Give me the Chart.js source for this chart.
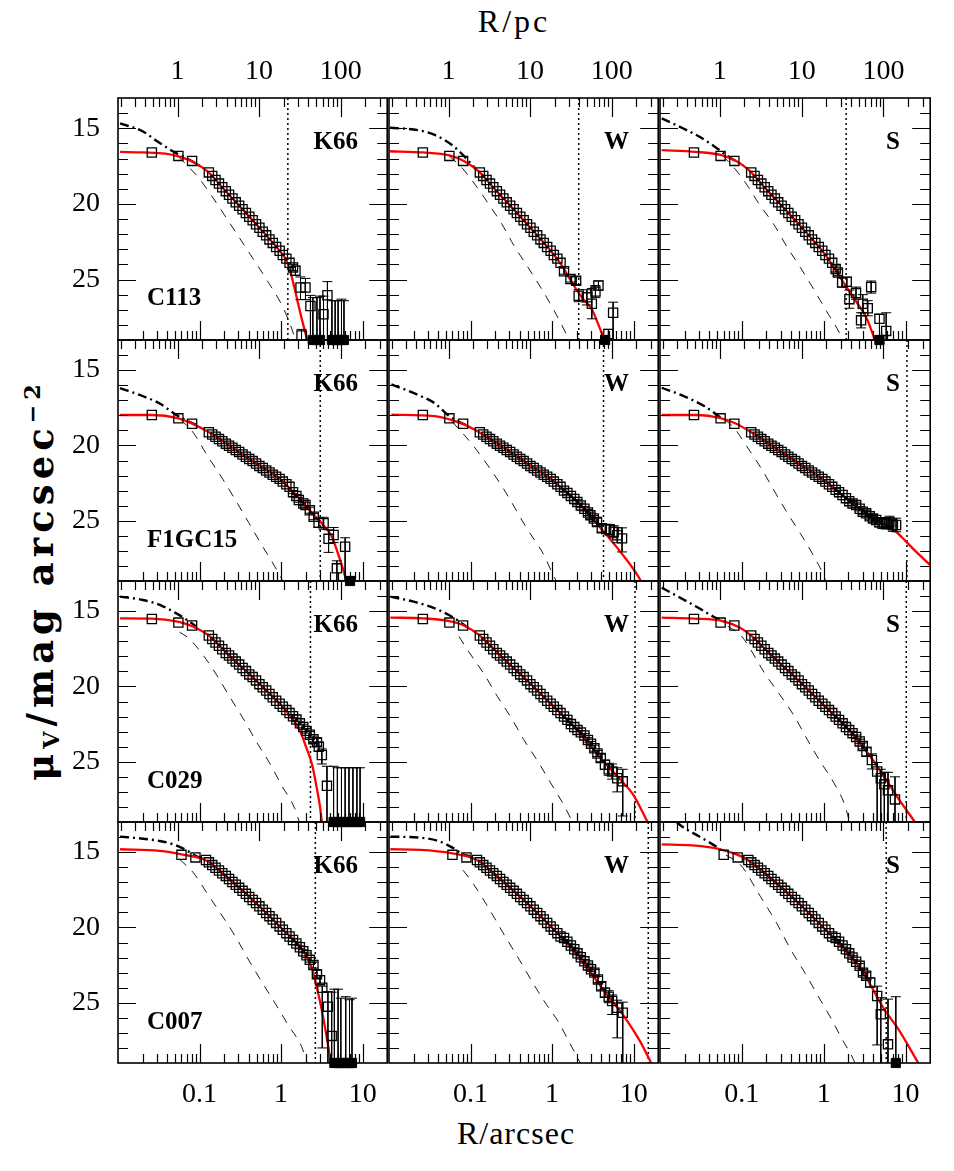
<!DOCTYPE html>
<html>
<head>
<meta charset="utf-8">
<script src="https://cdn.jsdelivr.net/npm/chart.js@4.4.1/dist/chart.umd.min.js"></script>
<style>
  body { margin: 0; background: #fff; }
  #fig { position: relative; width: 954px; height: 1171px; background: #fff; overflow: hidden; }
  #fig canvas { position: absolute; }
  .axt { position: absolute; width: 200px; font-family: "Liberation Serif", serif; font-size: 32px; line-height: 32px; text-align: center; white-space: nowrap; color: #000; }
  #ylab { position: absolute; left: -218px; top: 555px; width: 500px; height: 50px; line-height: 50px; text-align: center; white-space: nowrap;
          transform: rotate(-90deg); font-family: "DejaVu Serif", serif; font-weight: bold; font-size: 37px; letter-spacing: 5px; color: #000; }
  #ylab sub { font-size: 0.6em; vertical-align: -0.25em; }
  #ylab sup { font-size: 0.6em; vertical-align: 0.6em; }
</style>
</head>
<body>
<div id="fig">
  <div class="axt" style="left:414px;top:5px;letter-spacing:3px">R/pc</div>
  <div class="axt" style="left:416px;top:1117px;letter-spacing:1px">R/arcsec</div>
  <div id="ylab">μ<sub>V</sub>/mag arcsec<sup>−2</sup></div>
</div>
<script>
// ---- data (radius in arcsec, surface brightness in mag/arcsec^2) ----
var clusters = ['C113', 'F1GC15', 'C029', 'C007'];
var models = ['K66', 'W', 'S'];
var rTicks = [0.1, 1, 10];
var pcTicks = [1, 10, 100];
var muTicks = [15, 20, 25];

var rInner = [0.026, 0.055, 0.081];
var rInnerC007 = [0.06, 0.089, 0.12];
var rGrid = [0.13, 0.143, 0.157, 0.173, 0.19, 0.21, 0.23, 0.253, 0.278, 0.306, 0.337, 0.37, 0.407,
             0.448, 0.493, 0.542, 0.596, 0.656, 0.72, 0.79, 0.87, 0.96, 1.05, 1.16, 1.27];

var muC113 = [16.6, 16.83, 17.16, 17.92, 18.15, 18.42, 18.66, 18.9, 19.16, 19.4, 19.64, 19.9, 20.12, 20.36,
              20.6, 20.85, 21.08, 21.35, 21.58, 21.84, 22.08, 22.35, 22.58, 22.85, 23.1, 23.38, 23.62, 23.9];
var muF1GC15 = [17.98, 18.2, 18.56, 19.12, 19.27, 19.42, 19.58, 19.72, 19.88, 20.02, 20.15, 20.3, 20.43, 20.6,
                20.75, 20.9, 21.04, 21.2, 21.36, 21.5, 21.66, 21.8, 21.95, 22.08, 22.22, 22.4, 22.58, 22.75];
var muC029 = [15.52, 15.76, 15.95, 16.62, 16.85, 17.08, 17.3, 17.53, 17.78, 17.95, 18.15, 18.35, 18.55, 18.78,
              18.98, 19.2, 19.38, 19.6, 19.85, 20.05, 20.27, 20.5, 20.72, 20.95, 21.15, 21.35, 21.57, 21.77];
var muC007 = [15.18, 15.35, 15.52, 15.68, 15.86, 16.04, 16.22, 16.4, 16.58, 16.78, 16.98, 17.17, 17.37, 17.57,
              17.77, 17.98, 18.18, 18.38, 18.6, 18.82, 19.04, 19.25, 19.47, 19.7, 19.93, 20.15, 20.38, 20.6];

// outer points per fit: [r, mu, err bright, err faint]
var tailC113K = [[1.4, 24.2, 0.2, 0.2], [1.5, 24.42, 0.3, 0.3], [1.73, 25.53, 0.7, 0.8], [1.78, 28.7, 0.4, 0.4],
                 [1.99, 25.53, 0.6, 0.8], [2.29, 26.75, 0.7, 4], [3.31, 27.3, 1.2, 4], [3.7, 26.04, 0.9, 4]];
var tailC113W = [[1.4, 24.45, 0.2, 0.2], [1.68, 24.97, 0.2, 0.2], [1.97, 25.08, 0.25, 0.25], [2.12, 26.07, 0.4, 0.4],
                 [2.67, 26.18, 0.5, 0.5], [3.07, 26.6, 1.0, 1.0], [3.4, 25.8, 0.4, 0.4], [3.7, 25.4, 0.3, 0.3],
                 [4.9, 28.6, 0.3, 3], [5.6, 27.2, 0.7, 3]];
var tailC113S = [[1.4, 24.3, 0.2, 0.2], [1.49, 24.53, 0.2, 0.2], [1.68, 25.2, 0.3, 0.3], [1.91, 25.15, 0.3, 0.3],
                 [2.06, 26.3, 0.6, 0.6], [2.48, 25.9, 0.4, 0.4], [2.86, 27.7, 0.5, 0.5], [3.0, 26.6, 0.6, 0.6],
                 [3.45, 26.9, 0.5, 0.5], [3.8, 25.5, 0.4, 0.4], [4.8, 27.6, 0.3, 3], [5.8, 28.4, 1.2, 3]];
var tailF1GC15K = [[1.4, 23.1, 0.1, 0.1], [1.54, 23.35, 0.1, 0.1], [1.65, 23.62, 0.15, 0.15], [1.87, 23.85, 0.15, 0.15],
                   [1.99, 23.95, 0.15, 0.15], [2.25, 24.3, 0.2, 0.2], [2.51, 24.73, 0.2, 0.2], [2.88, 25.13, 0.3, 0.3],
                   [3.32, 25.17, 0.4, 0.4], [3.82, 26.2, 0.6, 0.9], [4.4, 25.95, 0.5, 0.5], [4.83, 28.16, 0.5, 0.8],
                   [6.1, 26.73, 0.6, 3]];
var tailF1GC15W = [[1.4, 23.0, 0.1, 0.1], [1.54, 23.15, 0.1, 0.1], [1.7, 23.35, 0.1, 0.1], [1.87, 23.55, 0.1, 0.1],
                   [2.04, 23.75, 0.15, 0.15], [2.25, 23.98, 0.15, 0.15], [2.49, 24.2, 0.15, 0.15], [2.75, 24.45, 0.2, 0.2],
                   [2.95, 24.63, 0.2, 0.2], [3.25, 24.85, 0.2, 0.2], [3.55, 25.08, 0.25, 0.25], [4.07, 25.5, 0.25, 0.25],
                   [4.6, 25.55, 0.3, 0.3], [5.1, 25.6, 0.35, 0.35], [5.69, 25.73, 0.4, 0.4], [6.3, 25.96, 0.5, 0.5],
                   [7.2, 26.17, 0.7, 0.9]];
var tailF1GC15S = [[1.4, 22.95, 0.1, 0.1], [1.54, 23.1, 0.1, 0.1], [1.7, 23.29, 0.1, 0.1], [1.87, 23.5, 0.1, 0.1],
                   [2.05, 23.7, 0.12, 0.12], [2.25, 23.85, 0.12, 0.12], [2.49, 23.96, 0.15, 0.15], [2.75, 24.2, 0.15, 0.15],
                   [3.0, 24.4, 0.2, 0.2], [3.3, 24.51, 0.2, 0.2], [3.65, 24.7, 0.2, 0.2], [4.0, 24.85, 0.25, 0.25],
                   [4.37, 24.95, 0.3, 0.3], [4.8, 25.1, 0.3, 0.3], [5.25, 25.17, 0.35, 0.35], [5.8, 25.2, 0.35, 0.35],
                   [6.35, 25.1, 0.4, 0.4], [7.0, 25.3, 0.4, 0.4], [7.66, 25.28, 0.45, 0.45]];
var tailC029K = [[1.4, 21.98, 0.1, 0.1], [1.54, 22.2, 0.1, 0.1], [1.7, 22.45, 0.1, 0.1], [1.87, 22.7, 0.15, 0.15],
                 [2.05, 22.95, 0.15, 0.15], [2.25, 23.2, 0.2, 0.2], [2.49, 23.5, 0.2, 0.2], [2.75, 23.7, 0.25, 0.25],
                 [2.9, 24.0, 0.3, 0.3], [3.16, 24.55, 0.4, 0.6], [3.65, 26.6, 1.3, 4]];
var tailC029W = [[1.4, 22.0, 0.1, 0.1], [1.54, 22.22, 0.1, 0.1], [1.7, 22.5, 0.1, 0.1], [1.87, 22.7, 0.1, 0.1],
                 [2.05, 22.9, 0.1, 0.1], [2.25, 23.05, 0.12, 0.12], [2.49, 23.25, 0.12, 0.12], [2.75, 23.55, 0.15, 0.15],
                 [3.0, 23.8, 0.15, 0.15], [3.3, 24.1, 0.2, 0.2], [3.6, 24.45, 0.2, 0.2], [3.95, 24.75, 0.25, 0.25],
                 [4.45, 25.2, 0.3, 0.3], [4.95, 25.5, 0.4, 0.4], [5.45, 25.65, 0.5, 0.5], [6.3, 26.1, 0.7, 0.9],
                 [7.35, 26.3, 0.8, 2.3]];
var tailC029S = [[1.4, 22.0, 0.1, 0.1], [1.54, 22.22, 0.1, 0.1], [1.7, 22.45, 0.1, 0.1], [1.87, 22.7, 0.1, 0.1],
                 [2.05, 22.9, 0.1, 0.1], [2.25, 23.1, 0.12, 0.12], [2.49, 23.35, 0.12, 0.12], [2.75, 23.65, 0.15, 0.15],
                 [3.0, 23.95, 0.2, 0.2], [3.33, 24.33, 0.25, 0.3], [3.88, 24.88, 0.4, 0.6], [4.5, 25.65, 0.6, 4],
                 [4.98, 26.1, 0.6, 4], [5.5, 26.5, 0.8, 4], [6.1, 26.9, 1.2, 4], [7.43, 27.5, 1.5, 4]];
var tailC007K = [[1.4, 20.83, 0.1, 0.1], [1.54, 21.07, 0.1, 0.1], [1.7, 21.32, 0.1, 0.1], [1.87, 21.58, 0.1, 0.1],
                 [2.05, 21.85, 0.15, 0.15], [2.25, 22.15, 0.15, 0.15], [2.49, 22.5, 0.2, 0.2], [2.75, 23.1, 0.25, 0.25],
                 [3.0, 23.5, 0.3, 0.3], [3.2, 24.0, 0.1, 4], [3.75, 25.26, 1.0, 4], [4.17, 27.2, 2.9, 4]];
var tailC007W = [[1.4, 20.7, 0.1, 0.1], [1.54, 20.95, 0.1, 0.1], [1.7, 21.2, 0.1, 0.1], [1.87, 21.45, 0.1, 0.1],
                 [2.05, 21.72, 0.1, 0.1], [2.25, 21.98, 0.12, 0.12], [2.49, 22.25, 0.12, 0.12], [2.75, 22.52, 0.15, 0.15],
                 [3.0, 22.78, 0.15, 0.15], [3.3, 23.0, 0.2, 0.2], [3.65, 23.45, 0.2, 0.2], [4.0, 23.9, 0.25, 0.25],
                 [4.45, 24.33, 0.3, 0.3], [4.95, 24.6, 0.4, 0.4], [5.45, 24.88, 0.4, 0.9], [6.3, 25.33, 0.5, 2.0],
                 [7.35, 25.66, 0.7, 4]];
var tailC007S = [[1.4, 20.7, 0.1, 0.1], [1.54, 20.95, 0.1, 0.1], [1.7, 21.2, 0.1, 0.1], [1.87, 21.45, 0.1, 0.1],
                 [2.05, 21.72, 0.1, 0.1], [2.25, 22.0, 0.12, 0.12], [2.49, 22.28, 0.12, 0.12], [2.75, 22.55, 0.15, 0.15],
                 [3.02, 23.0, 0.2, 0.2], [3.3, 23.2, 0.2, 0.2], [3.7, 23.66, 0.3, 0.3], [4.5, 24.55, 0.65, 3.25],
                 [4.98, 25.77, 1.1, 4], [6.1, 27.76, 3.0, 3]];

// points fainter than the plot floor: [r, error towards bright]
var limC113K = [[2.45, 2.8], [2.75, 2.8], [3.0, 2.9], [4.2, 2.6], [4.6, 2.6], [5.0, 2.6], [5.5, 2.7], [5.9, 2.6]];
var limC113W = [[4.47, 0.3]];
var limC113S = [[4.8, 0.3]];
var limF1GC15K = [[7.0, 0.3]];
var limC029K = [[4.4, 3.7], [4.9, 3.6], [5.5, 3.6], [6.1, 3.6], [6.8, 3.6], [7.6, 3.6], [8.5, 3.6], [9.3, 3.6]];
var limC007K = [[4.5, 4.9], [5.0, 4.9], [5.4, 4.3], [6.2, 4.4], [6.9, 4.2], [7.4, 4.3]];
var limC007S = [[7.6, 4.4]];

// fitted model (red), intrinsic model (dash-dot), PSF (dashed): [r, mu]
var fitC113K = [[0.0106, 16.56], [0.02, 16.6], [0.038, 16.68], [0.055, 16.86], [0.081, 17.2], [0.13, 17.93], [0.2, 19.05],
                [0.34, 20.38], [0.6, 21.85], [1.0, 23.22], [1.16, 23.75], [1.3, 24.5], [1.45, 25.5], [1.65, 26.8],
                [1.85, 27.9], [2.05, 28.8], [2.2, 29.4]];
var fitC113W = [[0.0103, 16.52], [0.026, 16.6], [0.055, 16.79], [0.084, 17.18], [0.128, 17.89], [0.2, 19.05], [0.34, 20.38],
                [0.6, 21.85], [1.0, 23.22], [1.38, 24.25], [1.66, 25.0], [2.33, 26.2], [3.09, 27.0], [3.9, 28.3], [4.7, 29.4]];
var fitC113S = [[0.0105, 16.45], [0.027, 16.56], [0.056, 16.78], [0.085, 17.16], [0.123, 17.78], [0.2, 19.05], [0.34, 20.38],
                [0.6, 21.85], [1.0, 23.22], [1.7, 25.1], [2.45, 26.4], [3.3, 27.5], [4.37, 29.2]];
var fitF1GC15K = [[0.0106, 17.98], [0.026, 17.98], [0.055, 18.2], [0.081, 18.55], [0.13, 19.12], [0.25, 20.13], [0.5, 21.22],
                  [1.0, 22.3], [1.6, 23.4], [2.51, 24.6], [3.3, 25.3], [4.19, 26.06], [5.0, 27.2], [6.1, 28.7], [6.5, 29.3]];
var fitF1GC15W = [[0.0107, 17.95], [0.036, 18.05], [0.058, 18.3], [0.091, 18.7], [0.135, 19.2], [0.25, 20.13], [0.5, 21.22],
                  [1.0, 22.3], [2.0, 23.7], [3.55, 25.2], [6.3, 26.8], [12.0, 28.9], [13.0, 29.3]];
var fitF1GC15S = [[0.0105, 17.98], [0.027, 17.98], [0.056, 18.2], [0.084, 18.54], [0.13, 19.12], [0.25, 20.13], [0.5, 21.22],
                  [1.0, 22.3], [2.0, 23.6], [4.37, 24.95], [5.8, 25.3], [7.66, 25.73], [10.0, 26.35], [14.0, 27.15], [20.0, 27.94]];
var fitC029K = [[0.0106, 15.48], [0.026, 15.5], [0.054, 15.7], [0.081, 16.0], [0.13, 16.62], [0.25, 18.13], [0.5, 19.63],
                [1.0, 21.25], [1.4, 22.2], [1.75, 23.1], [2.05, 24.1], [2.4, 25.2], [2.75, 26.8], [3.0, 28.0], [3.2, 29.2]];
var fitC029W = [[0.0104, 15.43], [0.026, 15.48], [0.057, 15.68], [0.083, 15.95], [0.13, 16.62], [0.25, 18.13], [0.5, 19.63],
                [1.0, 21.24], [2.0, 22.85], [4.0, 24.8], [6.64, 26.1], [9.9, 27.2], [14.8, 29.0]];
var fitC029S = [[0.0105, 15.43], [0.026, 15.5], [0.058, 15.66], [0.095, 16.1], [0.13, 16.62], [0.25, 18.13], [0.5, 19.63],
                [1.0, 21.24], [2.0, 22.85], [4.0, 24.9], [8.3, 27.5], [13.0, 29.0]];
var fitC007K = [[0.0106, 14.81], [0.0325, 14.92], [0.06, 15.15], [0.12, 15.55], [0.25, 16.95], [0.5, 18.41], [1.0, 20.02],
                [2.0, 21.8], [2.4, 22.75], [2.75, 24.0], [3.16, 25.5], [3.55, 27.0], [3.98, 28.6], [4.17, 29.2]];
var fitC007W = [[0.0104, 14.81], [0.0243, 14.85], [0.06, 15.08], [0.109, 15.42], [0.13, 15.65], [0.25, 16.95], [0.5, 18.41],
                [1.0, 20.02], [2.0, 21.75], [4.0, 23.95], [8.1, 26.1], [12.1, 27.6], [16.4, 29.0]];
var fitC007S = [[0.0105, 14.48], [0.0246, 14.55], [0.0548, 14.81], [0.1, 15.3], [0.13, 15.68], [0.25, 16.95], [0.5, 18.41],
                [1.0, 20.02], [2.0, 21.75], [3.0, 22.95], [5.5, 25.44], [8.2, 26.77], [14.3, 29.0]];

var intrC113K = [[0.0106, 14.68], [0.02, 15.2], [0.031, 15.9], [0.05, 16.6], [0.076, 17.1], [0.11, 17.62]];
var intrC113W = [[0.0103, 14.97], [0.023, 15.13], [0.037, 15.46], [0.06, 16.13], [0.087, 16.95], [0.112, 17.6]];
var intrC113S = [[0.0105, 14.35], [0.019, 15.0], [0.03, 15.55], [0.049, 16.3], [0.068, 16.87], [0.093, 17.3]];
var intrF1GC15K = [[0.0106, 16.2], [0.0185, 16.65], [0.0325, 17.22], [0.0519, 17.98], [0.069, 18.35], [0.09, 18.62]];
var intrF1GC15W = [[0.0107, 15.94], [0.0228, 16.65], [0.0363, 17.2], [0.0528, 17.98], [0.07, 18.4], [0.09, 18.68]];
var intrF1GC15S = [[0.0105, 16.17], [0.02, 16.75], [0.035, 17.4], [0.056, 18.18]];
var intrC029K = [[0.0106, 14.04], [0.0203, 14.26], [0.0325, 14.59], [0.0519, 15.15], [0.0753, 15.7], [0.0903, 16.0]];
var intrC029W = [[0.0104, 14.04], [0.02, 14.37], [0.0363, 14.81], [0.0542, 15.26], [0.0733, 15.7], [0.0893, 16.03]];
var intrC029S = [[0.0105, 13.45], [0.0182, 14.15], [0.0301, 14.81], [0.045, 15.37], [0.0607, 15.7]];
var intrC007K = [[0.0106, 13.97], [0.0203, 14.11], [0.0325, 14.26], [0.0472, 14.48], [0.0655, 14.81], [0.0908, 15.26], [0.11, 15.45]];
var intrC007W = [[0.0104, 13.97], [0.0243, 14.04], [0.0402, 14.26], [0.06, 14.7], [0.081, 15.15], [0.099, 15.28]];
var intrC007S = [[0.016, 13.0], [0.0182, 13.27], [0.0272, 13.82], [0.0406, 14.37], [0.0548, 14.81]];

var psfC113K = [[0.055, 16.88], [0.075, 17.6], [0.1, 18.35], [0.14, 19.45], [0.2, 20.7], [0.3, 22.15], [0.45, 23.6],
                [0.7, 25.2], [1.0, 26.6], [1.3, 28.0], [1.5, 29.0]];
var psfC113W = [[0.055, 16.85], [0.077, 17.56], [0.12, 18.9], [0.17, 20.08], [0.24, 21.3], [0.34, 22.75], [0.5, 24.15],
                [0.72, 25.5], [1.02, 26.9], [1.49, 28.6], [1.68, 29.2]];
var psfC113S = [[0.058, 16.8], [0.084, 17.74], [0.117, 18.79], [0.162, 20.0], [0.245, 21.35], [0.356, 22.85], [0.518, 24.2],
                [0.74, 25.57], [1.07, 27.05], [1.56, 28.55], [1.75, 29.2]];
var psfF1GC15K = [[0.058, 18.25], [0.085, 19.2], [0.122, 20.6], [0.188, 22.15], [0.274, 23.6], [0.398, 25.1], [0.578, 26.6],
                  [0.839, 28.05], [1.05, 29.0]];
var psfF1GC15W = [[0.059, 18.4], [0.108, 20.02], [0.247, 22.78], [0.498, 25.57], [0.78, 27.2], [1.05, 28.7], [1.14, 29.05]];
var psfF1GC15S = [[0.062, 18.3], [0.08, 18.82], [0.114, 20.04], [0.173, 21.53], [0.252, 23.07], [0.356, 24.45], [0.518, 25.84],
                  [0.752, 27.32], [1.02, 28.76], [1.07, 29.1]];
var psfC029K = [[0.057, 16.4], [0.074, 16.81], [0.112, 17.96], [0.162, 19.24], [0.227, 20.57], [0.342, 22.12], [0.497, 23.67],
                [0.723, 25.09], [1.01, 26.55], [1.47, 28.1], [1.73, 29.25]];
var psfC029W = [[0.072, 16.68], [0.096, 17.73], [0.149, 19.24], [0.213, 20.66], [0.318, 22.12], [0.449, 23.53], [0.67, 24.99],
                [0.96, 26.4], [1.39, 27.87], [1.79, 29.02]];
var psfC029S = [[0.067, 16.0], [0.098, 16.63], [0.186, 19.04], [0.44, 22.0], [0.638, 23.58], [0.889, 24.9], [1.33, 26.4],
                [1.79, 27.8], [2.02, 28.8], [2.1, 29.2]];
var psfC007K = [[0.057, 15.48], [0.084, 16.37], [0.126, 17.8], [0.188, 19.2], [0.275, 20.6], [0.4, 22.16], [0.581, 23.62],
                [0.845, 25.04], [1.23, 26.5], [1.78, 27.9], [2.09, 29.0]];
var psfC007W = [[0.081, 16.2], [0.109, 17.13], [0.172, 18.84], [0.264, 20.57], [0.394, 22.12], [0.553, 23.49], [0.794, 24.87],
                [1.19, 26.26], [1.67, 27.74], [2.21, 28.98]];
var psfC007S = [[0.064, 15.2], [0.0953, 15.81], [0.169, 17.96], [0.267, 19.73], [0.398, 21.5], [0.596, 23.06], [0.838, 24.48],
                [1.2, 25.94], [1.62, 27.27], [2.28, 28.71], [2.45, 29.1]];

// dotted radius marker per fit (arcsec), order K66, W, S
var rtC113 = [1.21, 2.12, 1.88];
var rtF1GC15 = [3.02, 4.27, 10.4];
var rtC029 = [2.29, 10.4, 10.2];
var rtC007 = [2.63, 15.1, 5.8];

// ---- layout ----
var COL_X = [118, 389, 660];
var ROW_Y = [98, 340, 581, 822];
var PANEL_W = [271, 271, 272];
var PANEL_H = [242, 241, 241, 241];
var PAD_L = 70, PAD_R = 6, PAD_T = 60, PAD_B = 60;
var R_MIN = 0.01, R_MAX = 20, MU_MIN = 13, MU_MAX = 29;
var PC_PER_ARCSEC = 18.6;

var rows = [
    {name: clusters[0], r: rInner.concat(rGrid), mu: muC113, rt: rtC113, fits: [
        {fit: fitC113K, intr: intrC113K, psf: psfC113K, tail: tailC113K, lim: limC113K},
        {fit: fitC113W, intr: intrC113W, psf: psfC113W, tail: tailC113W, lim: limC113W},
        {fit: fitC113S, intr: intrC113S, psf: psfC113S, tail: tailC113S, lim: limC113S}]},
    {name: clusters[1], r: rInner.concat(rGrid), mu: muF1GC15, rt: rtF1GC15, fits: [
        {fit: fitF1GC15K, intr: intrF1GC15K, psf: psfF1GC15K, tail: tailF1GC15K, lim: limF1GC15K},
        {fit: fitF1GC15W, intr: intrF1GC15W, psf: psfF1GC15W, tail: tailF1GC15W, lim: []},
        {fit: fitF1GC15S, intr: intrF1GC15S, psf: psfF1GC15S, tail: tailF1GC15S, lim: []}]},
    {name: clusters[2], r: rInner.concat(rGrid), mu: muC029, rt: rtC029, fits: [
        {fit: fitC029K, intr: intrC029K, psf: psfC029K, tail: tailC029K, lim: limC029K},
        {fit: fitC029W, intr: intrC029W, psf: psfC029W, tail: tailC029W, lim: []},
        {fit: fitC029S, intr: intrC029S, psf: psfC029S, tail: tailC029S, lim: []}]},
    {name: clusters[3], r: rInnerC007.concat(rGrid), mu: muC007, rt: rtC007, fits: [
        {fit: fitC007K, intr: intrC007K, psf: psfC007K, tail: tailC007K, lim: limC007K},
        {fit: fitC007W, intr: intrC007W, psf: psfC007W, tail: tailC007W, lim: []},
        {fit: fitC007S, intr: intrC007S, psf: psfC007S, tail: tailC007S, lim: limC007S}]}
];

function pts(pairs) {
    return pairs.map(function (p) { return {x: p[0], y: p[1]}; });
}

function boxData(r, mu, tail) {
    var out = r.map(function (v, i) { return {x: v, y: mu[i]}; });
    tail.forEach(function (t) { out.push({x: t[0], y: t[1]}); });
    return out;
}

function errData(tail, lim) {
    var out = [];
    tail.forEach(function (t) {
        out.push({x: t[0], y: t[1] - t[2]}, {x: t[0], y: t[1] + t[3]}, {x: t[0], y: null});
    });
    lim.forEach(function (l) {
        out.push({x: l[0], y: MU_MAX - l[1]}, {x: l[0], y: MU_MAX}, {x: l[0], y: null});
    });
    return out;
}

function logTicks(lo, hi) {
    var out = [];
    for (var e = Math.floor(Math.log10(lo)); e <= Math.ceil(Math.log10(hi)); e++) {
        for (var m = 1; m < 10; m++) {
            var v = m * Math.pow(10, e);
            if (v > lo * 1.0001 && v < hi * 0.9999) out.push({v: v, major: m === 1});
        }
    }
    return out;
}

// inward ticks on all four sides plus the box
var frameTicks = {
    id: 'frameTicks',
    afterDatasetsDraw: function (chart) {
        var ctx = chart.ctx, a = chart.chartArea;
        var sx = chart.scales.x, sp = chart.scales.x2, sy = chart.scales.y;
        ctx.save();
        ctx.strokeStyle = '#000';
        ctx.lineWidth = 1.2;
        ctx.beginPath();
        logTicks(sx.min, sx.max).forEach(function (t) {
            var px = Math.round(sx.getPixelForValue(t.v)) + 0.5;
            ctx.moveTo(px, a.bottom);
            ctx.lineTo(px, a.bottom - (t.major ? 19 : 9));
        });
        logTicks(sp.min, sp.max).forEach(function (t) {
            var px = Math.round(sp.getPixelForValue(t.v)) + 0.5;
            ctx.moveTo(px, a.top);
            ctx.lineTo(px, a.top + (t.major ? 19 : 9));
        });
        for (var m = MU_MIN + 1; m < MU_MAX; m++) {
            var py = Math.round(sy.getPixelForValue(m)) + 0.5;
            var len = m % 5 === 0 ? 18 : 10;
            ctx.moveTo(a.left, py); ctx.lineTo(a.left + len, py);
            ctx.moveTo(a.right, py); ctx.lineTo(a.right - len, py);
        }
        ctx.stroke();
        ctx.lineWidth = 1.6;
        ctx.strokeRect(a.left, a.top, a.right - a.left, a.bottom - a.top);
        ctx.restore();
    }
};

var panelText = {
    id: 'panelText',
    afterDraw: function (chart) {
        var o = chart.options.plugins.panelText, a = chart.chartArea, ctx = chart.ctx;
        ctx.save();
        ctx.fillStyle = '#000';
        ctx.font = 'bold 25px "Liberation Serif"';
        ctx.textBaseline = 'alphabetic';
        ctx.textAlign = 'right';
        ctx.fillText(o.model, a.left + 240, a.top + 51);
        if (o.name) {
            ctx.textAlign = 'left';
            ctx.fillText(o.name, a.left + 29, a.top + 207);
        }
        ctx.restore();
    }
};

var tickFont = {family: 'Liberation Serif', size: 28};

function makePanel(row, col) {
    var R = rows[row], P = R.fits[col];
    var w = PANEL_W[col], h = PANEL_H[row];
    var cv = document.createElement('canvas');
    cv.width = w + PAD_L + PAD_R;
    cv.height = h + PAD_T + PAD_B;
    cv.style.left = (COL_X[col] - PAD_L) + 'px';
    cv.style.top = (ROW_Y[row] - PAD_T) + 'px';
    document.getElementById('fig').appendChild(cv);

    new Chart(cv, {
        type: 'line',
        data: {
            datasets: [
                {data: pts(P.psf), borderColor: '#000', borderWidth: 0.9, borderDash: [9, 8],
                 cubicInterpolationMode: 'monotone', pointRadius: 0, clip: 0, order: 7},
                {data: pts(P.intr), borderColor: '#000', borderWidth: 2.4, borderDash: [9, 4, 2, 4],
                 cubicInterpolationMode: 'monotone', pointRadius: 0, clip: 0, order: 6},
                {data: [{x: R.rt[col], y: MU_MIN}, {x: R.rt[col], y: MU_MAX}], borderColor: '#000', borderWidth: 1.5,
                 borderDash: [2, 3], pointRadius: 0, clip: 0, order: 5},
                {data: pts(P.fit), borderColor: '#ff0000', borderWidth: 2.3,
                 cubicInterpolationMode: 'monotone', pointRadius: 0, clip: 0, order: 4},
                {data: errData(P.tail, P.lim), borderColor: '#000', borderWidth: 1, spanGaps: false,
                 pointStyle: 'line', pointRadius: 5, pointBorderColor: '#000', pointBorderWidth: 1, clip: 0, order: 3},
                {data: boxData(R.r, R.mu, P.tail), showLine: false, pointStyle: 'rect', pointRadius: 6.5,
                 pointBorderColor: '#000', pointBorderWidth: 1.3, pointBackgroundColor: 'rgba(0,0,0,0)', clip: 0, order: 2},
                {data: P.lim.map(function (l) { return {x: l[0], y: MU_MAX}; }), showLine: false, pointStyle: 'rect',
                 pointRadius: 6.5, pointBorderColor: '#000', pointBackgroundColor: '#000', pointBorderWidth: 1, clip: false, order: 1}
            ]
        },
        options: {
            responsive: false,
            animation: false,
            events: [],
            layout: {padding: {left: 0, right: PAD_R, top: 0, bottom: 0}},
            plugins: {
                legend: {display: false},
                tooltip: {enabled: false},
                panelText: {model: models[col], name: col === 0 ? R.name : ''}
            },
            scales: {
                x: {
                    type: 'logarithmic', position: 'bottom', min: R_MIN, max: R_MAX,
                    afterBuildTicks: function (s) { s.ticks = rTicks.map(function (v) { return {value: v}; }); },
                    afterFit: function (s) { s.height = PAD_B; },
                    grid: {display: false, drawTicks: false}, border: {display: false},
                    ticks: {display: row === 3, font: tickFont, color: '#000', padding: 15, maxRotation: 0, autoSkip: false,
                            callback: function (v) { return String(v); }}
                },
                x2: {
                    type: 'logarithmic', position: 'top', min: R_MIN * PC_PER_ARCSEC, max: R_MAX * PC_PER_ARCSEC,
                    afterBuildTicks: function (s) { s.ticks = pcTicks.map(function (v) { return {value: v}; }); },
                    afterFit: function (s) { s.height = PAD_T; },
                    grid: {display: false, drawTicks: false}, border: {display: false},
                    ticks: {display: row === 0, font: tickFont, color: '#000', padding: 10, maxRotation: 0, autoSkip: false,
                            callback: function (v) { return String(v); }}
                },
                y: {
                    type: 'linear', position: 'left', reverse: true, min: MU_MIN, max: MU_MAX,
                    afterBuildTicks: function (s) { s.ticks = muTicks.map(function (v) { return {value: v}; }); },
                    afterFit: function (s) { s.width = PAD_L; },
                    grid: {display: false, drawTicks: false}, border: {display: false},
                    ticks: {display: col === 0, font: tickFont, color: '#000', padding: 18}
                }
            }
        },
        plugins: [frameTicks, panelText]
    });
}

for (var i = 0; i < rows.length; i++) {
    for (var j = 0; j < models.length; j++) {
        makePanel(i, j);
    }
}
</script>
</body>
</html>
